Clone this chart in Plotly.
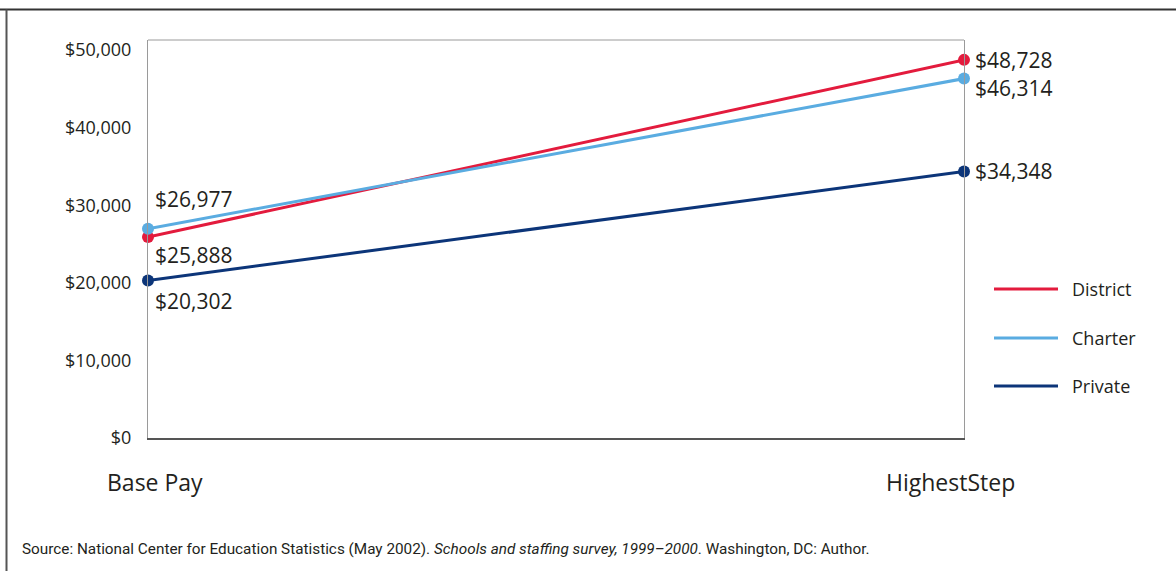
import plotly.graph_objects as go

categories = ["Base Pay", "HighestStep"]
series_names = ["District", "Charter", "Private"]
district = [25888, 48728]
charter = [26977, 46314]
private = [20302, 34348]
series_values = [district, charter, private]
colors = ["#E31B3D", "#5AACE1", "#0C3579"]
y_ticks = [0, 10000, 20000, 30000, 40000, 50000]
y_tick_labels = ["$0", "$10,000", "$20,000", "$30,000", "$40,000", "$50,000"]
source_text = ("Source: National Center for Education Statistics (May 2002). "
               "<i>Schools and staffing survey, 1999\u20132000</i>. Washington, DC: Author.")

W, H = 1176, 571
L, R, T, B = 148, 964, 40, 438
pw, ph = R - L, B - T

def px_x(x):
    return (x - L) / pw

def px_y(y):
    return (B - y) / ph

font_main = "Open Sans, Noto Sans, sans-serif"
txt_color = "#231F20"

xs = [0, 1]
fig = go.Figure()
for name, vals, c in zip(series_names, series_values, colors):
    fig.add_trace(go.Scatter(
        x=xs, y=vals, mode="lines+markers", name=name,
        line=dict(color=c, width=3),
        marker=dict(color=c, size=12),
        cliponaxis=False, showlegend=False, hoverinfo="skip"))

annotations = []
label_pos = {
    ("District", 0): -18,
    ("Charter", 0): 30,
    ("Private", 0): -21,
    ("District", 1): 0,
    ("Charter", 1): -9,
    ("Private", 1): 0,
}
for name, vals in zip(series_names, series_values):
    for i, v in enumerate(vals):
        annotations.append(dict(
            x=xs[i], y=v, xref="x", yref="y", text=f"${v:,}",
            showarrow=False, xanchor="left", yanchor="middle",
            xshift=5 if i == 0 else 9, yshift=label_pos[(name, i)],
            font=dict(family=font_main, size=21, color=txt_color)))

for i, cat in enumerate(categories):
    annotations.append(dict(
        x=xs[i], y=px_y(482), xref="x", yref="paper", text=cat,
        showarrow=False, xanchor="center", yanchor="middle",
        xshift=7 if i == 0 else -14,
        font=dict(family=font_main, size=23, color=txt_color)))

shapes = []
leg_y = [289, 338, 386]
for name, c, ly in zip(series_names, colors, leg_y):
    shapes.append(dict(type="line", xref="paper", yref="paper",
                       x0=px_x(994), x1=px_x(1058), y0=px_y(ly), y1=px_y(ly),
                       line=dict(color=c, width=3)))
    annotations.append(dict(x=px_x(1070), y=px_y(ly), xref="paper", yref="paper",
                            text=name, showarrow=False, xanchor="left", yanchor="middle",
                            font=dict(family=font_main, size=18, color=txt_color)))

annotations.append(dict(x=px_x(20), y=px_y(549), xref="paper", yref="paper",
                        text=source_text, showarrow=False, xanchor="left", yanchor="middle",
                        font=dict(family="Roboto, sans-serif", size=15.3, color=txt_color)))

shapes.append(dict(type="line", xref="paper", yref="paper", x0=0, x1=1, y0=1, y1=1,
                   line=dict(color="#9A9A9A", width=1)))
shapes.append(dict(type="line", xref="paper", yref="paper",
                   x0=px_x(0), x1=px_x(W), y0=px_y(9.5), y1=px_y(9.5),
                   line=dict(color="#333333", width=2)))
shapes.append(dict(type="line", xref="paper", yref="paper",
                   x0=px_x(6.5), x1=px_x(6.5), y0=px_y(9.5), y1=px_y(W),
                   line=dict(color="#555555", width=2)))

ymax = 50000 * ph / (B - 50)

fig.update_layout(
    width=W, height=H,
    margin=dict(l=L, r=W - R, t=T, b=H - B),
    paper_bgcolor="white", plot_bgcolor="white",
    showlegend=False,
    xaxis=dict(range=[0, 1], showgrid=False, zeroline=False, showticklabels=False,
               showline=True, linecolor="#555555", linewidth=2, fixedrange=True),
    yaxis=dict(range=[0, ymax], tickvals=y_ticks, ticktext=y_tick_labels,
               showgrid=False, zeroline=False, showline=True, mirror=True,
               linecolor="#9A9A9A", linewidth=1, ticks="", ticklabelstandoff=12,
               fixedrange=True,
               tickfont=dict(family=font_main, size=18, color=txt_color)),
    annotations=annotations, shapes=shapes,
)

fig.write_html("out.html", config={"displayModeBar": False, "staticPlot": True},
               post_script="document.body.style.margin='0';document.body.style.overflow='hidden';")
